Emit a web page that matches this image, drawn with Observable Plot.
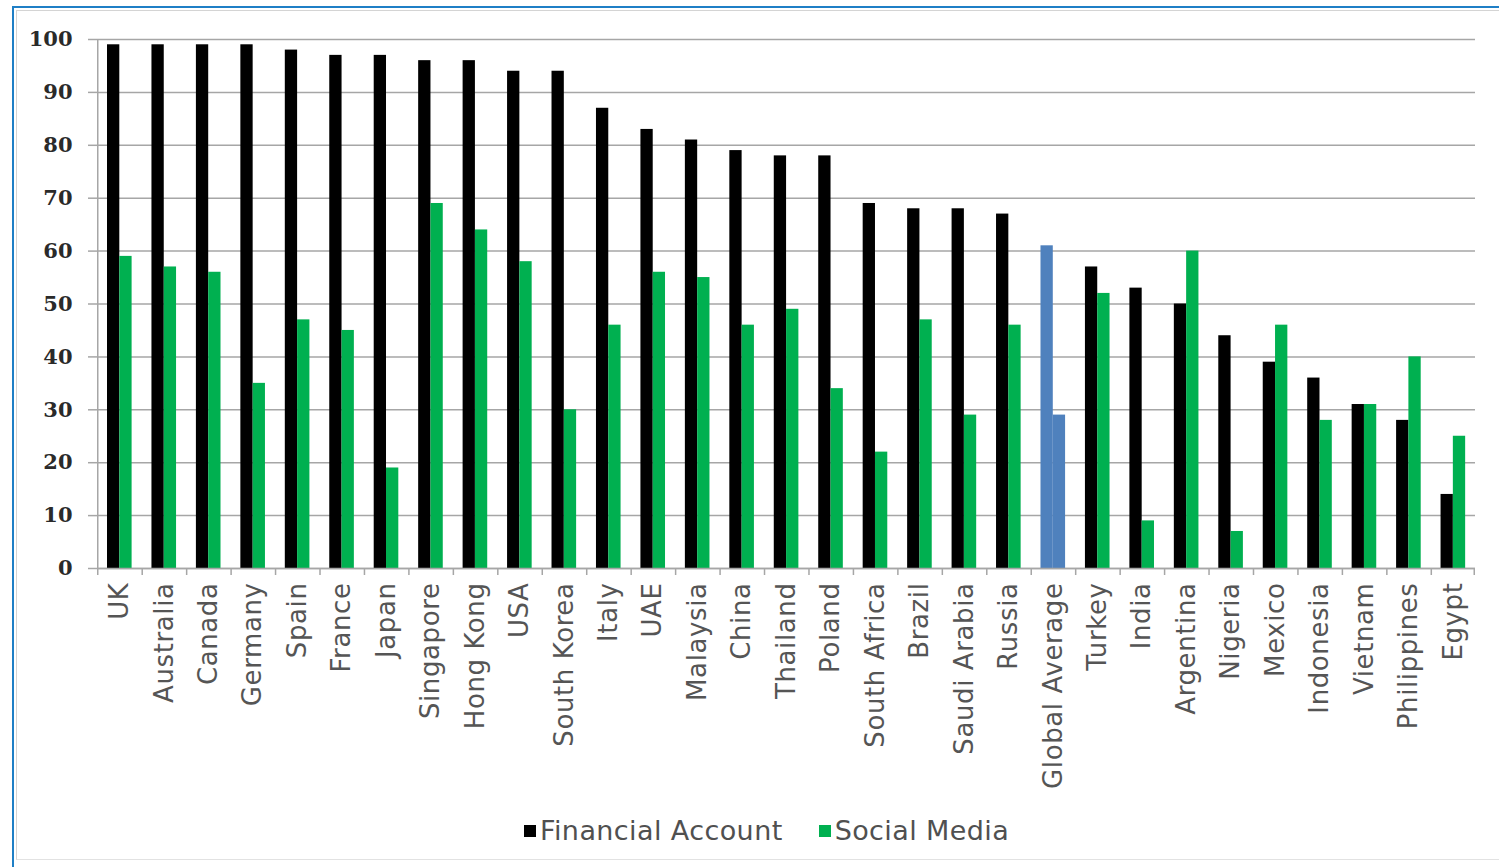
<!DOCTYPE html>
<html>
<head>
<meta charset="utf-8">
<script src="https://cdn.jsdelivr.net/npm/d3@7"></script>
<script src="https://cdn.jsdelivr.net/npm/@observablehq/plot@0.6"></script>
<style>
  html, body { margin: 0; padding: 0; background: #fff; width: 1499px; height: 867px; overflow: hidden; position: relative; }
  #outer { position: absolute; left: 12px; top: 6px; width: 1600px; height: 1000px; border-left: 2px solid #1f7fc6; border-top: 2px solid #1f7fc6; box-sizing: border-box; }
  #inner { position: absolute; left: 16px; top: 10px; width: 1600px; height: 850px; border-left: 1px solid #d4d4d4; border-top: 1px solid #d4d4d4; border-bottom: 1px solid #e2e2e2; box-sizing: border-box; }
  #chart { position: absolute; left: 0; top: 0; }
  #chart svg g[aria-label="x-axis tick label"] text { letter-spacing: 0.6px; }
  #legend { position: absolute; top: 815px; left: 524px; font-family: "DejaVu Sans", sans-serif; font-size: 27px; letter-spacing: 0.4px; color: #505050; display: flex; align-items: center; white-space: nowrap; }
  .sw { display: inline-block; width: 12px; height: 12px; margin-right: 4px; }
  .item { display: flex; align-items: center; }
</style>
</head>
<body>
<div id="outer"></div>
<div id="inner"></div>
<div id="chart"></div>
<div id="legend"></div>
<script>
const countries = ["UK","Australia","Canada","Germany","Spain","France","Japan","Singapore","Hong Kong","USA","South Korea","Italy","UAE","Malaysia","China","Thailand","Poland","South Africa","Brazil","Saudi Arabia","Russia","Global Average","Turkey","India","Argentina","Nigeria","Mexico","Indonesia","Vietnam","Philippines","Egypt"];
const financialAccount = [99,99,99,99,98,97,97,96,96,94,94,87,83,81,79,78,78,69,68,68,67,61,57,53,50,44,39,36,31,28,14];
const socialMedia = [59,57,56,35,47,45,19,69,64,58,30,46,56,55,46,49,34,22,47,29,46,29,52,9,60,7,46,28,31,40,25];
const yTicks = [0,10,20,30,40,50,60,70,80,90,100];
const seriesNames = ["Financial Account", "Social Media"];
const seriesColors = ["#000000", "#00b050"];
const highlightName = "Global Average";
const highlightColor = "#4f81bd";

const finData = countries.map((c, i) => ({country: c, value: financialAccount[i]}));
const socData = countries.map((c, i) => ({country: c, value: socialMedia[i]}));

const W = 1499, H = 800;
const mL = 97, mR = 24, mT = 39, mB = 232;
const bw = (W - mL - mR) / countries.length;
const gridColor = "#a6a6a6";

const chart = Plot.plot({
  width: W,
  height: H,
  marginLeft: mL,
  marginRight: mR,
  marginTop: mT,
  marginBottom: mB,
  style: {fontFamily: "DejaVu Sans, sans-serif", background: "transparent"},
  x: {type: "band", domain: countries, padding: 0, round: false},
  y: {domain: [0, 100]},
  marks: [
    Plot.ruleY(yTicks, {y: d => d, stroke: gridColor, strokeWidth: 1.5}),
    Plot.barY(finData, {x: "country", y: "value", insetLeft: 10, insetRight: bw - 22.3,
      fill: d => d.country === highlightName ? highlightColor : seriesColors[0]}),
    Plot.barY(socData, {x: "country", y: "value", insetLeft: 22.3, insetRight: bw - 34.6,
      fill: d => d.country === highlightName ? highlightColor : seriesColors[1]}),
    Plot.barY(countries, {x: d => d, y1: 0, y2: 0, insetRight: bw - 1.5, insetBottom: -7, fill: gridColor}),
    Plot.barY(countries.slice(-1), {x: d => d, y1: 0, y2: 0, insetLeft: bw - 1.5, insetBottom: -7, fill: gridColor}),
    Plot.barY(countries.slice(0, 1), {x: d => d, y1: 0, y2: 100, insetRight: bw - 1.5, fill: gridColor}),
    Plot.ruleY([0], {stroke: gridColor, strokeWidth: 1.5}),
    Plot.axisY({ticks: yTicks, tickSize: 9, tickPadding: 16, fontSize: 21, fontWeight: "bold",
      fontFamily: "DejaVu Serif, serif", fill: "#2a2a2a", stroke: gridColor, strokeWidth: 1.5, label: null}),
    Plot.axisX({tickRotate: -90, tickSize: 0, tickPadding: 14, fontSize: 26, fill: "#555555", label: null})
  ]
});
document.getElementById("chart").appendChild(chart);

const legend = document.getElementById("legend");
seriesNames.forEach((name, i) => {
  const item = document.createElement("span");
  item.className = "item";
  if (i > 0) item.style.marginLeft = "36px";
  const sw = document.createElement("span");
  sw.className = "sw";
  sw.style.background = seriesColors[i];
  item.appendChild(sw);
  const t = document.createElement("span");
  t.textContent = name;
  item.appendChild(t);
  legend.appendChild(item);
});
</script>
</body>
</html>
